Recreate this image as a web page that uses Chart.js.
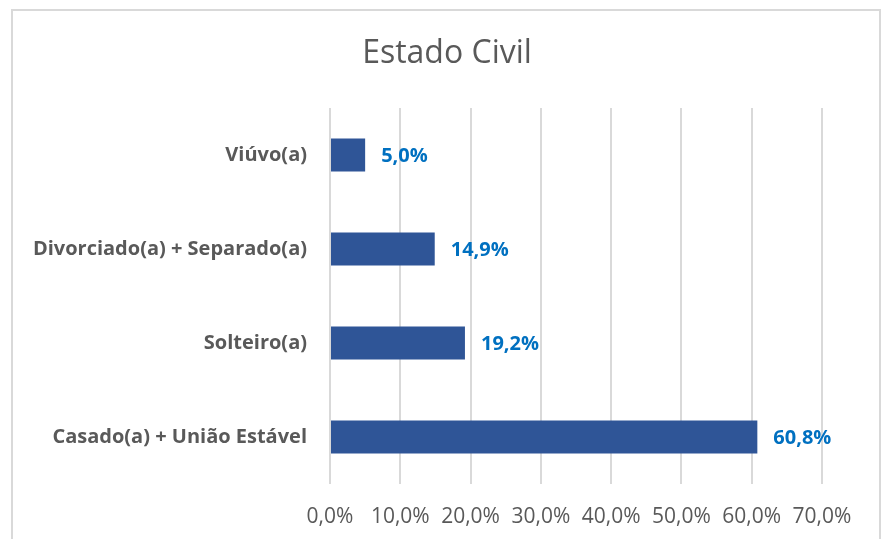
<!DOCTYPE html>
<html>
<head>
<meta charset="utf-8">
<script src="https://cdn.jsdelivr.net/npm/chart.js@4/dist/chart.umd.min.js"></script>
<style>
  html, body { margin: 0; padding: 0; background: #ffffff; }
  #wrap { position: relative; width: 886px; height: 539px; overflow: hidden; }
  #frame { position: absolute; left: 11px; top: 9px; width: 870px; height: 560px; border: 2px solid #D9D9D9; box-sizing: border-box; }
  canvas { position: absolute; left: 0; top: 0; }
</style>
</head>
<body>
<div id="wrap">
  <div id="frame"></div>
  <canvas id="c" width="886" height="539"></canvas>
</div>
<script>
const titleText = 'Estado Civil';
const categories = ['Viúvo(a)', 'Divorciado(a) + Separado(a)', 'Solteiro(a)', 'Casado(a) + União Estável'];
const values = [5.0, 14.9, 19.2, 60.8];
const xTicks = [0, 10, 20, 30, 40, 50, 60, 70];

const fmt = v => v.toFixed(1).replace('.', ',') + '%';
const FONT = '"Open Sans", Lato, sans-serif';

const titleAndLabels = {
  id: 'titleAndLabels',
  afterDatasetsDraw(chart) {
    const ctx = chart.ctx;
    const meta = chart.getDatasetMeta(0);
    ctx.save();
    ctx.font = 'bold 20px ' + FONT;
    ctx.fillStyle = '#0070C0';
    ctx.textAlign = 'left';
    ctx.textBaseline = 'middle';
    meta.data.forEach((bar, i) => {
      ctx.fillText(fmt(chart.data.datasets[0].data[i]), bar.x + 16, bar.y + 1);
    });
    ctx.restore();
  },
  afterDraw(chart) {
    const ctx = chart.ctx;
    ctx.save();
    ctx.font = '32px ' + FONT;
    ctx.fillStyle = '#595959';
    ctx.textAlign = 'center';
    ctx.textBaseline = 'middle';
    ctx.fillText(titleText, 447, 54);
    ctx.restore();
  }
};

new Chart(document.getElementById('c'), {
  type: 'bar',
  data: {
    labels: categories,
    datasets: [{
      data: values,
      backgroundColor: '#2F5597',
      borderWidth: 0,
      categoryPercentage: 0.7,
      barPercentage: 0.5
    }]
  },
  options: {
    indexAxis: 'y',
    responsive: false,
    animation: false,
    devicePixelRatio: 1,
    layout: { padding: { top: 108, right: 64, bottom: 0, left: 0 } },
    plugins: {
      legend: { display: false },
      tooltip: { enabled: false },
      title: { display: false }
    },
    scales: {
      x: {
        min: 0, max: 70,
        afterBuildTicks: s => { s.ticks = xTicks.map(v => ({ value: v })); },
        afterFit: s => { s.height = 55; },
        grid: { color: '#D9D9D9', lineWidth: 2, drawTicks: false },
        border: { display: false },
        ticks: {
          padding: 20,
          color: '#595959',
          font: { family: FONT, size: 21 },
          callback: v => fmt(v),
          maxRotation: 0
        }
      },
      y: {
        afterFit: s => { s.width = 330; },
        grid: { display: false, drawTicks: false },
        border: { display: false },
        ticks: {
          padding: 23,
          color: '#595959',
          font: { family: FONT, size: 20, weight: 'bold' }
        }
      }
    }
  },
  plugins: [titleAndLabels]
});
</script>
</body>
</html>
